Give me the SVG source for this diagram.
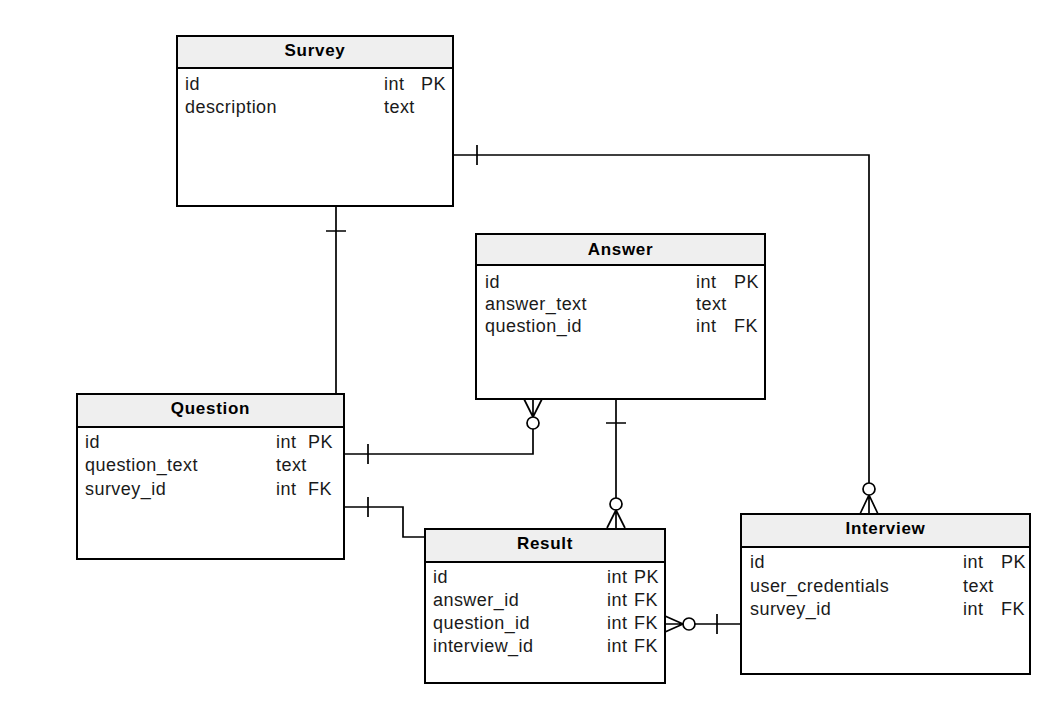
<svg xmlns="http://www.w3.org/2000/svg" width="1064" height="717" viewBox="0 0 1064 717">
<style>
.box{fill:#ffffff;stroke:#000000;stroke-width:2}
.hdr{fill:#efefef;stroke:#000000;stroke-width:2}
.title{font-family:"Liberation Sans",Arial,sans-serif;font-size:17px;font-weight:bold;letter-spacing:0.7px;text-anchor:middle;fill:#000}
.row{font-family:"Liberation Sans",Arial,sans-serif;font-size:18px;letter-spacing:0.45px;fill:#1a1a1a}
.ln{fill:none;stroke:#000000;stroke-width:1.7}
.circ{fill:#ffffff;stroke:#000000;stroke-width:1.7}
</style>
<rect width="1064" height="717" fill="#ffffff"/>
<g id="connectors">
  <!-- Survey - Question -->
  <path class="ln" d="M336,206 V394 M326,231 H346"/>
  <!-- Survey - Interview -->
  <path class="ln" d="M453,155 H869 V483 M477,145 V165"/>
  <path class="ln" d="M860,514 L869,495 L878,514 M869,495 V514"/>
  <circle class="circ" cx="869" cy="489" r="6"/>
  <!-- Question - Answer -->
  <path class="ln" d="M344,454 H533 V429 M368,444 V464"/>
  <path class="ln" d="M524,399 L533,417 L542,399 M533,399 V417"/>
  <circle class="circ" cx="533" cy="423" r="6"/>
  <!-- Question - Result -->
  <path class="ln" d="M344,507 H403 V537 H425 M368,497 V517"/>
  <!-- Answer - Result -->
  <path class="ln" d="M616,399 V498 M606,423 H626"/>
  <path class="ln" d="M607,528 L616,510 L625,528 M616,510 V528"/>
  <circle class="circ" cx="616" cy="504" r="6"/>
  <!-- Result - Interview -->
  <path class="ln" d="M741,624 H695 M717,614 V634"/>
  <path class="ln" d="M665,616 L683,624 L665,632 M665,624 H683"/>
  <circle class="circ" cx="689" cy="624" r="6"/>
</g>
<g id="survey">
  <rect class="box" x="177" y="36" width="276" height="170"/>
  <rect class="hdr" x="177" y="36" width="276" height="32"/>
  <text class="title" x="315" y="56">Survey</text>
  <text class="row" x="185" y="90">id</text>
  <text class="row" x="384" y="90">int</text>
  <text class="row" x="421" y="90">PK</text>
  <text class="row" x="185" y="113">description</text>
  <text class="row" x="384" y="113">text</text>
</g>
<g id="answer">
  <rect class="box" x="476" y="234" width="289" height="165"/>
  <rect class="hdr" x="476" y="234" width="289" height="31"/>
  <text class="title" x="620.5" y="255">Answer</text>
  <text class="row" x="485" y="288">id</text>
  <text class="row" x="696" y="288">int</text>
  <text class="row" x="734" y="288">PK</text>
  <text class="row" x="485" y="310">answer_text</text>
  <text class="row" x="696" y="310">text</text>
  <text class="row" x="485" y="332">question_id</text>
  <text class="row" x="696" y="332">int</text>
  <text class="row" x="734" y="332">FK</text>
</g>
<g id="question">
  <rect class="box" x="77" y="394" width="267" height="165"/>
  <rect class="hdr" x="77" y="394" width="267" height="33"/>
  <text class="title" x="210.5" y="414">Question</text>
  <text class="row" x="85" y="448">id</text>
  <text class="row" x="276" y="448">int</text>
  <text class="row" x="308" y="448">PK</text>
  <text class="row" x="85" y="471">question_text</text>
  <text class="row" x="276" y="471">text</text>
  <text class="row" x="85" y="495">survey_id</text>
  <text class="row" x="276" y="495">int</text>
  <text class="row" x="308" y="495">FK</text>
</g>
<g id="result">
  <rect class="box" x="425" y="529" width="240" height="154"/>
  <rect class="hdr" x="425" y="529" width="240" height="33"/>
  <text class="title" x="545" y="549">Result</text>
  <text class="row" x="433" y="583">id</text>
  <text class="row" x="607" y="583">int</text>
  <text class="row" x="634" y="583">PK</text>
  <text class="row" x="433" y="606">answer_id</text>
  <text class="row" x="607" y="606">int</text>
  <text class="row" x="634" y="606">FK</text>
  <text class="row" x="433" y="629">question_id</text>
  <text class="row" x="607" y="629">int</text>
  <text class="row" x="634" y="629">FK</text>
  <text class="row" x="433" y="652">interview_id</text>
  <text class="row" x="607" y="652">int</text>
  <text class="row" x="634" y="652">FK</text>
</g>
<g id="interview">
  <rect class="box" x="741" y="514" width="289" height="160"/>
  <rect class="hdr" x="741" y="514" width="289" height="33"/>
  <text class="title" x="885.5" y="534">Interview</text>
  <text class="row" x="750" y="568">id</text>
  <text class="row" x="963" y="568">int</text>
  <text class="row" x="1001" y="568">PK</text>
  <text class="row" x="750" y="592">user_credentials</text>
  <text class="row" x="963" y="592">text</text>
  <text class="row" x="750" y="615">survey_id</text>
  <text class="row" x="963" y="615">int</text>
  <text class="row" x="1001" y="615">FK</text>
</g>
</svg>
